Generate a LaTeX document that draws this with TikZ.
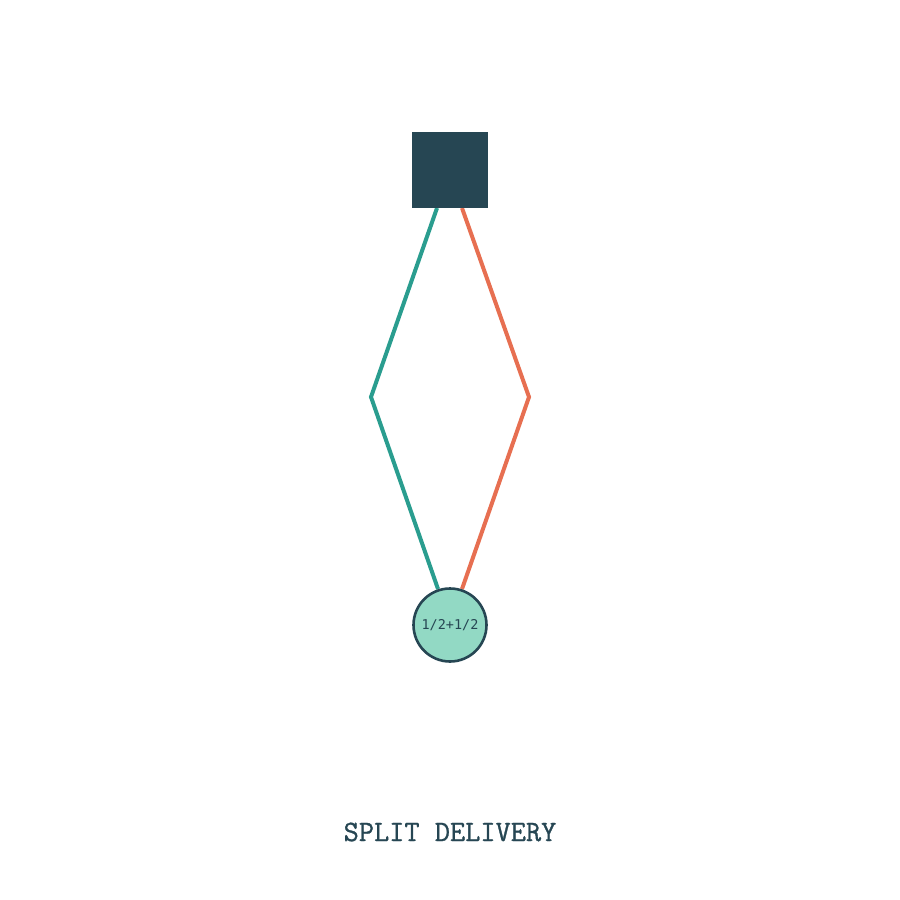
\documentclass[tikz,border=0pt]{standalone}
\usepackage{fontspec}
\newfontfamily\monofont{DejaVu Sans Mono}
\newfontfamily\titlefont[FakeBold=1]{Latin Modern Mono}
\definecolor{navy}{HTML}{264653}
\definecolor{tealc}{HTML}{2A9D8F}
\definecolor{orangec}{HTML}{E76F51}
\definecolor{mint}{HTML}{92D9C4}
\begin{document}
\begin{tikzpicture}[x=1pt,y=-1pt,
  depot/.style={fill=navy,draw=none,minimum size=76pt,inner sep=0pt},
  cust/.style={circle,fill=mint,draw=navy,line width=2.6pt,minimum size=73pt,inner sep=0pt,font=\monofont\fontsize{13.5}{14}\selectfont,text=navy},
  routeA/.style={draw=tealc,line width=4pt},
  routeB/.style={draw=orangec,line width=4pt},
  title/.style={font=\titlefont\fontsize{29.5}{31}\selectfont,text=navy}]
\useasboundingbox (0,0) rectangle (900,900);
\coordinate (wa) at (371,397);
\coordinate (wb) at (529,397);
\coordinate (da) at (437,208);
\coordinate (db) at (462,208);
\coordinate (ca) at (438,589);
\coordinate (cb) at (462,589);
\draw[routeA] (da) -- (wa) -- (ca);
\draw[routeB] (db) -- (wb) -- (cb);
\node[depot] (d) at (450,170) {};
\node[cust] (c) at (450,625) {1/2+1/2};
\node[title] (t) at (450,832) {SPLIT DELIVERY};
\end{tikzpicture}
\end{document}
